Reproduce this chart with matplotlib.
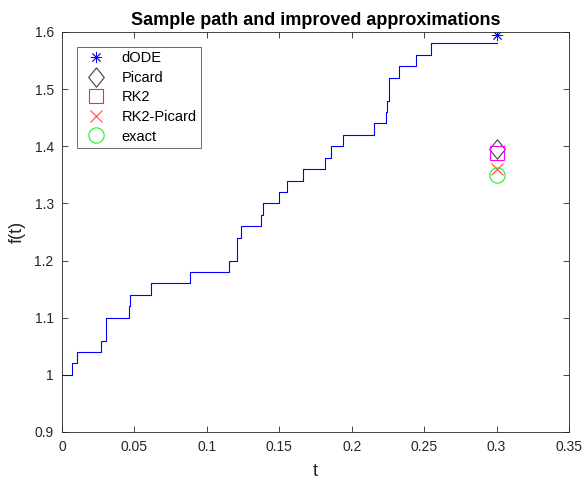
import matplotlib
matplotlib.use("Agg")
import matplotlib.pyplot as plt

plt.rcParams['font.family'] = ['Liberation Sans', 'DejaVu Sans']

# Sample path: jump times and levels (step, post)
jump_t = [0.0, 0.0071, 0.0101, 0.0269, 0.0304, 0.0465, 0.0470, 0.0612, 0.0885,
          0.1155, 0.1205, 0.1210, 0.1237, 0.1376, 0.1385, 0.1500, 0.1555, 0.1661,
          0.1813, 0.1860, 0.1941, 0.2153, 0.2236, 0.2245, 0.2259, 0.2328, 0.2443,
          0.2549, 0.3000]
levels = [1.00, 1.02, 1.04, 1.06, 1.10, 1.12, 1.14, 1.16, 1.18,
          1.20, 1.22, 1.24, 1.26, 1.28, 1.30, 1.32, 1.34, 1.36,
          1.38, 1.40, 1.42, 1.44, 1.46, 1.48, 1.52, 1.54, 1.56,
          1.58, 1.58]

t_end = 0.3
dode = 1.594
picard = 1.395
rk2 = 1.389
rk2_picard = 1.361
exact = 1.3499

xticks = [0, 0.05, 0.1, 0.15, 0.2, 0.25, 0.3, 0.35]
xticklabels = ['0', '0.05', '0.1', '0.15', '0.2', '0.25', '0.3', '0.35']
yticks = [0.9, 1.0, 1.1, 1.2, 1.3, 1.4, 1.5, 1.6]
yticklabels = ['0.9', '1', '1.1', '1.2', '1.3', '1.4', '1.5', '1.6']

diamond = [(0, 1), (0.8, 0), (0, -1), (-0.8, 0), (0, 1)]

fig = plt.figure(figsize=(5.86, 4.83), dpi=100)
ax = fig.add_axes([0.1058, 0.1056, 0.8652, 0.8282])

ax.step(jump_t, levels, where='post', color='#0000ff', lw=0.8)
ax.plot([t_end], [dode], linestyle='none', marker=(8, 2, 0), ms=8, mew=0.6,
        color='#0000ff', label='dODE')
ax.plot([t_end], [picard], linestyle='none', marker=diamond, ms=14, mfc='none',
        mec='#404040', mew=0.8, label='Picard')
ax.plot([t_end], [rk2], linestyle='none', marker='s', ms=10, mfc='none',
        mec='#ff00ff', mew=0.8, label='RK2')
ax.plot([t_end], [rk2_picard], linestyle='none', marker='x', ms=9,
        mec='#ff4a4a', mew=0.8, label='RK2-Picard')
ax.plot([t_end], [exact], linestyle='none', marker='o', ms=11, mfc='none',
        mec='#22ee22', mew=0.8, label='exact')

ax.set_xlim(0, 0.35)
ax.set_ylim(0.9, 1.6)
ax.set_xticks(xticks)
ax.set_xticklabels(xticklabels)
ax.set_yticks(yticks)
ax.set_yticklabels(yticklabels)
ax.tick_params(direction='in', length=4, width=0.6, colors='#262626',
               labelsize=10, top=True, right=True, pad=6)
for sp in ax.spines.values():
    sp.set_color('#262626')
    sp.set_linewidth(0.6)

ax.set_xlabel('t', fontsize=13, color='#262626', labelpad=6)
ax.set_ylabel('f(t)', fontsize=13, color='#262626', labelpad=6)
ax.set_title('Sample path and improved approximations', fontsize=13,
             fontweight='bold', pad=5)

leg = ax.legend(loc='upper left', bbox_to_anchor=(0.03, 0.9625), fontsize=10.5,
                frameon=True, fancybox=False, edgecolor='#262626',
                handlelength=2.0, handletextpad=0.75, labelspacing=0.38,
                borderpad=0.3, borderaxespad=0)
leg.get_frame().set_linewidth(0.6)

fig.savefig('out.png', dpi=100)
